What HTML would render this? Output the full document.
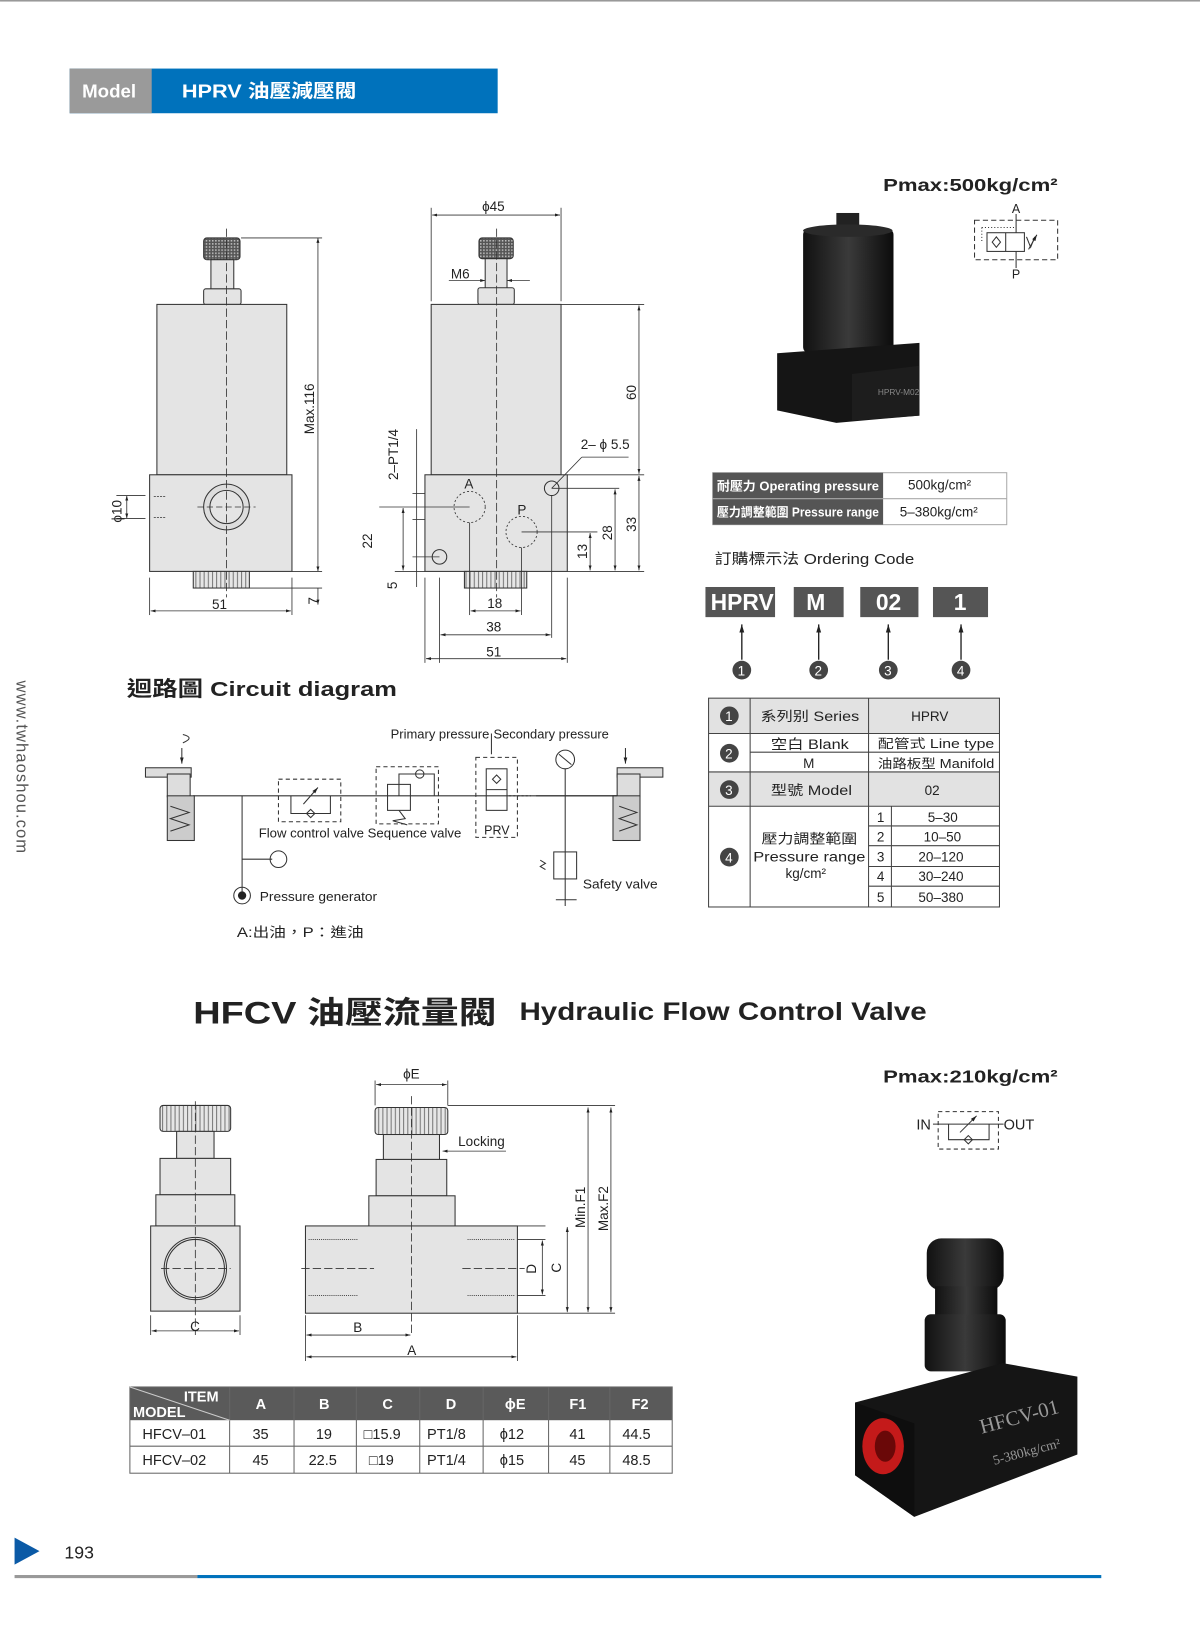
<!DOCTYPE html>
<html><head><meta charset="utf-8"><style>
html,body{margin:0;padding:0;background:#fff;width:1200px;height:1628px;overflow:hidden}
svg{display:block}
text{font-family:"Liberation Sans","Noto Sans CJK TC",sans-serif;fill:#222}
</style></head><body>
<svg width="1200" height="1628" viewBox="0 0 1155 1567" xmlns="http://www.w3.org/2000/svg">
<defs>
<marker id="ar" viewBox="0 0 10 10" refX="10" refY="5" markerWidth="6" markerHeight="6" orient="auto-start-reverse"><path d="M0,2 L10,5 L0,8z" fill="#222"/></marker>
<pattern id="kn" width="3" height="3" patternUnits="userSpaceOnUse"><rect width="3" height="3" fill="#555"/><rect width="1.5" height="1.5" fill="#bbb"/></pattern>
<pattern id="kv" width="4" height="4" patternUnits="userSpaceOnUse"><rect width="4" height="4" fill="#e6e6e6"/><rect width="1" height="4" fill="#777"/></pattern>
<linearGradient id="blk" x1="0" x2="1"><stop offset="0" stop-color="#111"/><stop offset="0.5" stop-color="#3a3a3a"/><stop offset="1" stop-color="#0c0c0c"/></linearGradient>
</defs>
<rect x="0" y="0" width="1155" height="1.5" fill="#999"/>
<!-- header -->
<rect x="67" y="66" width="412" height="43" fill="#0072bc"/>
<rect x="67" y="66" width="79" height="43" fill="#9a9a9a"/>
<text x="79" y="94" font-size="18" font-weight="bold" style="fill:#fff">Model</text>
<text x="175" y="94" font-size="18" font-weight="bold" style="fill:#fff" textLength="168" lengthAdjust="spacingAndGlyphs">HPRV  油壓減壓閥</text>
<!-- side text -->
<text transform="translate(16,655) rotate(90)" font-size="16" style="fill:#555" letter-spacing="1">www.twhaoshou.com</text>

<!-- drawing 1 -->
<g stroke="#333" stroke-width="1" fill="#e4e4e4">
<rect x="196" y="229" width="35" height="21" rx="3" fill="url(#kn)"/>
<rect x="203" y="250" width="22" height="30"/>
<rect x="196" y="278" width="36" height="15" rx="2"/>
<rect x="151" y="293" width="125" height="164"/>
<rect x="144" y="457" width="137" height="93"/>
<rect x="186" y="550" width="54" height="16" fill="url(#kv)"/>
<circle cx="218" cy="488" r="22" fill="#ddd"/>
<circle cx="218" cy="488" r="16" fill="#e4e4e4"/>
</g>
<g stroke="#333" stroke-width="0.8" fill="none">
<line x1="218" y1="220" x2="218" y2="575" stroke-dasharray="8,3"/>
<line x1="190" y1="488" x2="246" y2="488" stroke-dasharray="6,3"/>
<line x1="232" y1="229" x2="310" y2="229"/><line x1="240" y1="566" x2="310" y2="566"/>
<line x1="281" y1="550" x2="310" y2="550"/>
<line x1="306" y1="229" x2="306" y2="550" marker-start="url(#ar)" marker-end="url(#ar)"/>
<line x1="306" y1="566" x2="306" y2="582" marker-end="url(#ar)"/>
<line x1="144" y1="556" x2="144" y2="592"/><line x1="281" y1="556" x2="281" y2="592"/>
<line x1="145" y1="588" x2="280" y2="588" marker-start="url(#ar)" marker-end="url(#ar)"/>
<line x1="112" y1="477" x2="140" y2="477"/><line x1="112" y1="499" x2="140" y2="499"/>
<line x1="122" y1="477" x2="122" y2="499" marker-start="url(#ar)" marker-end="url(#ar)"/>
<line x1="148" y1="478" x2="160" y2="478" stroke-dasharray="2,1"/><line x1="148" y1="498" x2="160" y2="498" stroke-dasharray="2,1"/>
</g>
<text transform="translate(302,418) rotate(-90)" font-size="13">Max.116</text>
<text transform="translate(306,582) rotate(-90)" font-size="13">7</text>
<text x="204" y="586" font-size="13">51</text>
<text transform="translate(117,503) rotate(-90)" font-size="13">ϕ10</text>

<!-- drawing 2 -->
<g stroke="#333" stroke-width="1" fill="#e4e4e4">
<rect x="461" y="229" width="33" height="20" rx="3" fill="url(#kn)"/>
<rect x="467" y="249" width="21" height="30"/>
<rect x="460" y="277" width="35" height="16" rx="2"/>
<rect x="415" y="293" width="125" height="164"/>
<rect x="409" y="457" width="137" height="93"/>
<rect x="447" y="550" width="60" height="16" fill="url(#kv)"/>
<circle cx="423" cy="536" r="7"/><circle cx="531" cy="470" r="7"/>
</g>
<g stroke="#333" stroke-width="0.8" fill="none">
<circle cx="452" cy="488" r="15" stroke-dasharray="2,2"/><circle cx="502" cy="512" r="15" stroke-dasharray="2,2"/>
<line x1="478" y1="220" x2="478" y2="575" stroke-dasharray="8,3"/>
<line x1="415" y1="200" x2="415" y2="290"/><line x1="540" y1="200" x2="540" y2="290"/>
<line x1="416" y1="207" x2="539" y2="207" marker-start="url(#ar)" marker-end="url(#ar)"/>
<line x1="432" y1="270" x2="467" y2="270" marker-end="url(#ar)"/><line x1="510" y1="270" x2="488" y2="270" marker-end="url(#ar)"/>
<line x1="540" y1="293" x2="620" y2="293"/><line x1="546" y1="457" x2="620" y2="457"/><line x1="546" y1="550" x2="620" y2="550"/>
<line x1="615" y1="294" x2="615" y2="456" marker-start="url(#ar)" marker-end="url(#ar)"/>
<line x1="615" y1="458" x2="615" y2="549" marker-start="url(#ar)" marker-end="url(#ar)"/>
<line x1="531" y1="470" x2="596" y2="470"/><line x1="592" y1="471" x2="592" y2="549" marker-start="url(#ar)" marker-end="url(#ar)"/>
<line x1="502" y1="512" x2="575" y2="512"/><line x1="568" y1="513" x2="568" y2="549" marker-start="url(#ar)" marker-end="url(#ar)"/>
<line x1="531" y1="470" x2="560" y2="440"/><line x1="560" y1="440" x2="605" y2="440"/>
<line x1="365" y1="488" x2="452" y2="488"/><line x1="388" y1="489" x2="388" y2="549" marker-start="url(#ar)" marker-end="url(#ar)"/>
<line x1="380" y1="550" x2="409" y2="550"/>
<line x1="401" y1="413" x2="401" y2="565"/>
<line x1="397" y1="475" x2="409" y2="475"/><line x1="397" y1="500" x2="409" y2="500"/><line x1="397" y1="536" x2="423" y2="536"/>
<line x1="423" y1="556" x2="423" y2="638"/><line x1="531" y1="477" x2="531" y2="614"/><line x1="409" y1="556" x2="409" y2="638"/><line x1="546" y1="556" x2="546" y2="638"/>
<line x1="452" y1="503" x2="452" y2="592"/><line x1="502" y1="527" x2="502" y2="592"/>
<line x1="453" y1="588" x2="501" y2="588" marker-start="url(#ar)" marker-end="url(#ar)"/>
<line x1="424" y1="611" x2="530" y2="611" marker-start="url(#ar)" marker-end="url(#ar)"/>
<line x1="410" y1="634" x2="545" y2="634" marker-start="url(#ar)" marker-end="url(#ar)"/>
</g>
<text x="464" y="203" font-size="13">ϕ45</text>
<text x="434" y="268" font-size="13">M6</text>
<text x="559" y="432" font-size="13">2– ϕ 5.5</text>
<text x="447" y="470" font-size="13">A</text><text x="498" y="495" font-size="13">P</text>
<text transform="translate(612,385) rotate(-90)" font-size="13">60</text>
<text transform="translate(612,512) rotate(-90)" font-size="13">33</text>
<text transform="translate(589,520) rotate(-90)" font-size="13">28</text>
<text transform="translate(565,538) rotate(-90)" font-size="13">13</text>
<text transform="translate(358,528) rotate(-90)" font-size="13">22</text>
<text transform="translate(382,567) rotate(-90)" font-size="13">5</text>
<text transform="translate(383,462) rotate(-90)" font-size="13">2–PT1/4</text>
<text x="469" y="585" font-size="13">18</text><text x="468" y="608" font-size="13">38</text><text x="468" y="632" font-size="13">51</text>

<!-- photo 1 -->
<text x="850" y="184" font-size="17" font-weight="bold" textLength="168" lengthAdjust="spacingAndGlyphs">Pmax:500kg/cm²</text>
<rect x="805" y="205" width="22" height="20" fill="#222"/>
<rect x="773" y="220" width="87" height="120" rx="6" fill="url(#blk)"/>
<ellipse cx="816" cy="222" rx="43" ry="6" fill="#2a2a2a"/>
<path d="M748 340 L885 330 L885 400 L805 407 L748 395Z" fill="#151515"/>
<path d="M820 360 L885 352 L885 400 L820 405Z" fill="#1d1d1d"/>
<text x="845" y="380" font-size="8" style="fill:#888">HPRV-M02</text>
<!-- symbol -->
<g stroke="#333" stroke-width="1" fill="none">
<rect x="938" y="212" width="80" height="38" stroke-dasharray="5,3"/>
<rect x="950" y="224" width="36" height="18"/><line x1="968" y1="224" x2="968" y2="242"/>
<line x1="978" y1="206" x2="978" y2="224"/><line x1="978" y1="242" x2="978" y2="258"/>
<path d="M959 228 L963 233 L959 238 L955 233Z"/>
<line x1="945" y1="219" x2="978" y2="219" stroke-dasharray="1,2"/><line x1="945" y1="219" x2="945" y2="233" stroke-dasharray="1,2"/>
<path d="M988 228 L992 238 L996 228"/><line x1="990" y1="240" x2="998" y2="226" marker-end="url(#ar)"/>
</g>
<text x="974" y="205" font-size="12">A</text><text x="974" y="268" font-size="12">P</text>

<!-- spec table -->
<rect x="686" y="455" width="283" height="50" fill="#fff" stroke="#aaa"/>
<rect x="686" y="455" width="164" height="50" fill="#555"/>
<line x1="686" y1="480" x2="969" y2="480" stroke="#aaa"/>
<text x="690" y="472" font-size="12" font-weight="bold" style="fill:#fff" textLength="156" lengthAdjust="spacingAndGlyphs">耐壓力 Operating pressure</text>
<text x="690" y="497" font-size="12" font-weight="bold" style="fill:#fff" textLength="156" lengthAdjust="spacingAndGlyphs">壓力調整範圍 Pressure range</text>
<text x="874" y="471" font-size="13">500kg/cm²</text><text x="866" y="497" font-size="13">5–380kg/cm²</text>
<text x="688" y="543" font-size="14" textLength="192" lengthAdjust="spacingAndGlyphs">訂購標示法   Ordering Code</text>
<!-- ordering code -->
<g font-size="22" font-weight="bold">
<rect x="679" y="565" width="67" height="29" fill="#555"/><text x="684" y="587" style="fill:#fff">HPRV</text>
<rect x="764" y="565" width="48" height="29" fill="#555"/><text x="776" y="587" style="fill:#fff">M</text>
<rect x="828" y="565" width="56" height="29" fill="#555"/><text x="843" y="587" style="fill:#fff">02</text>
<rect x="898" y="565" width="53" height="29" fill="#555"/><text x="918" y="587" style="fill:#fff">1</text>
</g>
<g stroke="#222" stroke-width="1.3">
<line x1="714" y1="635" x2="714" y2="601" marker-end="url(#ar)"/><line x1="788" y1="635" x2="788" y2="601" marker-end="url(#ar)"/>
<line x1="855" y1="635" x2="855" y2="601" marker-end="url(#ar)"/><line x1="925" y1="635" x2="925" y2="601" marker-end="url(#ar)"/>
</g>
<g font-size="13"><circle cx="714" cy="645" r="9" fill="#444"/><text x="710" y="650" style="fill:#fff">1</text>
<circle cx="788" cy="645" r="9" fill="#444"/><text x="784" y="650" style="fill:#fff">2</text>
<circle cx="855" cy="645" r="9" fill="#444"/><text x="851" y="650" style="fill:#fff">3</text>
<circle cx="925" cy="645" r="9" fill="#444"/><text x="921" y="650" style="fill:#fff">4</text></g>

<!-- series table -->
<rect x="682" y="672" width="280" height="34" fill="#e2e2e2"/>
<rect x="682" y="743" width="280" height="33" fill="#e2e2e2"/>
<g stroke="#444" stroke-width="1" fill="none">
<rect x="682" y="672" width="280" height="201"/>
<line x1="682" y1="706" x2="962" y2="706"/><line x1="722" y1="724" x2="962" y2="724"/>
<line x1="682" y1="743" x2="962" y2="743"/><line x1="682" y1="776" x2="962" y2="776"/>
<line x1="722" y1="672" x2="722" y2="873"/><line x1="836" y1="672" x2="836" y2="873"/><line x1="858" y1="776" x2="858" y2="873"/>
<line x1="836" y1="795" x2="962" y2="795"/><line x1="836" y1="814" x2="962" y2="814"/><line x1="836" y1="834" x2="962" y2="834"/><line x1="836" y1="853" x2="962" y2="853"/>
</g>
<g font-size="13">
<circle cx="702" cy="689" r="9" fill="#444"/><text x="698" y="694" style="fill:#fff">1</text>
<circle cx="702" cy="725" r="9" fill="#444"/><text x="698" y="730" style="fill:#fff">2</text>
<circle cx="702" cy="760" r="9" fill="#444"/><text x="698" y="765" style="fill:#fff">3</text>
<circle cx="702" cy="825" r="9" fill="#444"/><text x="698" y="830" style="fill:#fff">4</text>
<text x="732" y="694" textLength="95" lengthAdjust="spacingAndGlyphs">系列别 Series</text><text x="877" y="694">HPRV</text>
<text x="742" y="721" textLength="75" lengthAdjust="spacingAndGlyphs">空白 Blank</text><text x="773" y="739">M</text>
<text x="845" y="720" font-size="12" textLength="112" lengthAdjust="spacingAndGlyphs">配管式 Line type</text><text x="845" y="739" font-size="12" textLength="112" lengthAdjust="spacingAndGlyphs">油路板型 Manifold</text>
<text x="742" y="765" textLength="78" lengthAdjust="spacingAndGlyphs">型號 Model</text><text x="890" y="765">02</text>
<text x="733" y="812" textLength="92" lengthAdjust="spacingAndGlyphs">壓力調整範圍</text><text x="725" y="829" textLength="108" lengthAdjust="spacingAndGlyphs">Pressure range</text><text x="756" y="845">kg/cm²</text>
<text x="844" y="791">1</text><text x="893" y="791">5–30</text>
<text x="844" y="810">2</text><text x="889" y="810">10–50</text>
<text x="844" y="829">3</text><text x="884" y="829">20–120</text>
<text x="844" y="848">4</text><text x="884" y="848">30–240</text>
<text x="844" y="868">5</text><text x="884" y="868">50–380</text>
</g>

<!-- circuit diagram -->
<text x="122" y="670" font-size="20" font-weight="bold" textLength="260" lengthAdjust="spacingAndGlyphs">迴路圖 Circuit diagram</text>
<g stroke="#333" stroke-width="1" fill="none">
<line x1="186" y1="766" x2="596" y2="766"/>
<line x1="233" y1="766" x2="233" y2="862"/><line x1="233" y1="827" x2="262" y2="827"/><circle cx="268" cy="827" r="8"/>
<circle cx="233" cy="862" r="8"/>
<rect x="140" y="739" width="44" height="9" fill="#ddd"/><rect x="161" y="745" width="22" height="22" fill="#ddd"/>
<rect x="161" y="766" width="26" height="43" fill="#ccc"/><path d="M164 776 L182 782 L164 788 L182 794 L164 800"/>
<line x1="175" y1="720" x2="175" y2="735" marker-end="url(#ar)"/><path d="M176 707 q12 3 0 8"/>
<rect x="594" y="739" width="44" height="9" fill="#ddd"/><rect x="594" y="745" width="22" height="22" fill="#ddd"/>
<rect x="590" y="766" width="26" height="43" fill="#ccc"/><path d="M596 776 L613 782 L596 788 L613 794 L596 800"/>
<line x1="602" y1="720" x2="602" y2="735" marker-end="url(#ar)"/>
<rect x="268" y="750" width="60" height="41" stroke-dasharray="4,3"/>
<path d="M280 766 L280 783 L318 783 L318 766"/><path d="M295 783 l4 -4 l4 4 l-4 4z"/><line x1="292" y1="774" x2="306" y2="758" marker-end="url(#ar)"/>
<rect x="362" y="738" width="60" height="55" stroke-dasharray="4,3"/>
<rect x="373" y="755" width="22" height="25"/><path d="M384 780 L390 788 L378 790 L392 794"/>
<path d="M384 766 L384 745 L418 745 L418 766"/><circle cx="404" cy="745" r="4"/>
<rect x="458" y="729" width="40" height="77" stroke-dasharray="4,3"/>
<rect x="468" y="740" width="20" height="40"/><line x1="468" y1="760" x2="488" y2="760"/><path d="M478 746 l4 4 l-4 4 l-4 -4z"/>
<line x1="490" y1="766" x2="511" y2="766" stroke-dasharray="2,2"/>
<line x1="516" y1="766" x2="594" y2="766"/>
<line x1="544" y1="740" x2="544" y2="872"/><circle cx="544" cy="731" r="9"/><line x1="538" y1="726" x2="550" y2="736"/>
<rect x="533" y="820" width="22" height="26"/><path d="M520 828 l5 3 l-5 3 l5 3"/><line x1="535" y1="866" x2="555" y2="866"/>
<line x1="473" y1="706" x2="473" y2="726"/>
</g>
<text x="249" y="806" font-size="12" textLength="195" lengthAdjust="spacingAndGlyphs">Flow control valve Sequence valve</text>
<text x="466" y="803" font-size="12">PRV</text>
<text x="376" y="711" font-size="12" textLength="95" lengthAdjust="spacingAndGlyphs">Primary pressure</text><text x="475" y="711" font-size="12" textLength="111" lengthAdjust="spacingAndGlyphs">Secondary pressure</text>
<text x="561" y="855" font-size="12" textLength="72" lengthAdjust="spacingAndGlyphs">Safety valve</text>
<circle cx="233" cy="862" r="4" fill="#222"/>
<text x="250" y="867" font-size="12" textLength="113" lengthAdjust="spacingAndGlyphs">Pressure generator</text>
<text x="228" y="902" font-size="13" textLength="122" lengthAdjust="spacingAndGlyphs">A:出油，P：進油</text>

<!-- HFCV title -->
<text x="186" y="985" font-size="30" font-weight="bold" textLength="292" lengthAdjust="spacingAndGlyphs">HFCV 油壓流量閥</text>
<text x="500" y="982" font-size="24" font-weight="bold" textLength="392" lengthAdjust="spacingAndGlyphs">Hydraulic Flow Control Valve</text>

<!-- HFCV drawings -->
<g stroke="#333" stroke-width="1" fill="#e4e4e4">
<rect x="154" y="1064" width="68" height="25" rx="3" fill="url(#kv)"/>
<rect x="170" y="1089" width="36" height="26"/>
<rect x="154" y="1115" width="68" height="35"/>
<rect x="150" y="1150" width="76" height="30"/>
<rect x="145" y="1180" width="86" height="82"/>
<circle cx="188" cy="1221" r="30" fill="none"/><circle cx="188" cy="1221" r="28" fill="none"/>
<rect x="361" y="1066" width="70" height="26" rx="3" fill="url(#kv)"/>
<rect x="369" y="1092" width="54" height="24"/>
<rect x="362" y="1116" width="68" height="35"/>
<rect x="355" y="1151" width="83" height="30"/>
<rect x="294" y="1180" width="204" height="84"/>
</g>
<g stroke="#333" stroke-width="0.8" fill="none">
<line x1="188" y1="1060" x2="188" y2="1285" stroke-dasharray="8,3"/><line x1="155" y1="1221" x2="222" y2="1221" stroke-dasharray="8,3"/>
<line x1="145" y1="1266" x2="145" y2="1285"/><line x1="231" y1="1266" x2="231" y2="1285"/>
<line x1="146" y1="1281" x2="230" y2="1281" marker-start="url(#ar)" marker-end="url(#ar)"/>
<line x1="396" y1="1055" x2="396" y2="1285" stroke-dasharray="8,3"/>
<line x1="290" y1="1221" x2="360" y2="1221" stroke-dasharray="8,3"/><line x1="445" y1="1221" x2="505" y2="1221" stroke-dasharray="8,3"/>
<line x1="297" y1="1193" x2="345" y2="1193" stroke-dasharray="1,1"/><line x1="297" y1="1247" x2="345" y2="1247" stroke-dasharray="1,1"/>
<line x1="450" y1="1193" x2="495" y2="1193" stroke-dasharray="1,1"/><line x1="450" y1="1247" x2="495" y2="1247" stroke-dasharray="1,1"/>
<line x1="361" y1="1040" x2="361" y2="1064"/><line x1="431" y1="1040" x2="431" y2="1064"/>
<line x1="362" y1="1044" x2="430" y2="1044" marker-start="url(#ar)" marker-end="url(#ar)"/>
<line x1="431" y1="1064" x2="592" y2="1064"/>
<line x1="498" y1="1264" x2="592" y2="1264"/><line x1="498" y1="1180" x2="525" y2="1180"/><line x1="498" y1="1193" x2="525" y2="1193"/><line x1="498" y1="1247" x2="525" y2="1247"/>
<line x1="522" y1="1194" x2="522" y2="1246" marker-start="url(#ar)" marker-end="url(#ar)"/>
<line x1="546" y1="1181" x2="546" y2="1263" marker-start="url(#ar)" marker-end="url(#ar)"/>
<line x1="566" y1="1066" x2="566" y2="1263" marker-start="url(#ar)" marker-end="url(#ar)"/>
<line x1="588" y1="1066" x2="588" y2="1263" marker-start="url(#ar)" marker-end="url(#ar)"/>
<line x1="294" y1="1266" x2="294" y2="1310"/><line x1="498" y1="1266" x2="498" y2="1310"/>
<line x1="295" y1="1285" x2="395" y2="1285" marker-start="url(#ar)" marker-end="url(#ar)"/>
<line x1="295" y1="1306" x2="497" y2="1306" marker-start="url(#ar)" marker-end="url(#ar)"/>
<line x1="487" y1="1108" x2="426" y2="1108" marker-end="url(#ar)"/>
</g>
<text x="388" y="1038" font-size="13">ϕE</text><text x="441" y="1103" font-size="13">Locking</text>
<text x="183" y="1281" font-size="13">C</text><text x="340" y="1282" font-size="13">B</text><text x="392" y="1304" font-size="13">A</text>
<text transform="translate(516,1226) rotate(-90)" font-size="13">D</text>
<text transform="translate(540,1225) rotate(-90)" font-size="13">C</text>
<text transform="translate(563,1182) rotate(-90)" font-size="13">Min.F1</text>
<text transform="translate(585,1185) rotate(-90)" font-size="13">Max.F2</text>

<!-- HFCV table -->
<rect x="125" y="1335" width="522" height="32" fill="#5a5a5a"/>
<g stroke="#666" stroke-width="1" fill="none">
<rect x="125" y="1335" width="522" height="83"/><line x1="125" y1="1392" x2="647" y2="1392"/>
<line x1="221" y1="1335" x2="221" y2="1418"/><line x1="283" y1="1335" x2="283" y2="1418"/><line x1="343" y1="1335" x2="343" y2="1418"/>
<line x1="404" y1="1335" x2="404" y2="1418"/><line x1="465" y1="1335" x2="465" y2="1418"/><line x1="528" y1="1335" x2="528" y2="1418"/><line x1="587" y1="1335" x2="587" y2="1418"/>
<line x1="125" y1="1335" x2="221" y2="1367" stroke="#ccc"/>
</g>
<g font-size="14" font-weight="bold" style="fill:#fff">
<text x="177" y="1349" style="fill:#fff">ITEM</text><text x="128" y="1364" style="fill:#fff">MODEL</text>
<text x="246" y="1356" style="fill:#fff">A</text><text x="307" y="1356" style="fill:#fff">B</text><text x="368" y="1356" style="fill:#fff">C</text>
<text x="429" y="1356" style="fill:#fff">D</text><text x="486" y="1356" style="fill:#fff">ϕE</text><text x="548" y="1356" style="fill:#fff">F1</text><text x="608" y="1356" style="fill:#fff">F2</text>
</g>
<g font-size="14">
<text x="137" y="1385">HFCV–01</text><text x="243" y="1385">35</text><text x="304" y="1385">19</text><text x="350" y="1385">□15.9</text>
<text x="411" y="1385">PT1/8</text><text x="481" y="1385">ϕ12</text><text x="548" y="1385">41</text><text x="599" y="1385">44.5</text>
<text x="137" y="1410">HFCV–02</text><text x="243" y="1410">45</text><text x="297" y="1410">22.5</text><text x="355" y="1410">□19</text>
<text x="411" y="1410">PT1/4</text><text x="481" y="1410">ϕ15</text><text x="548" y="1410">45</text><text x="599" y="1410">48.5</text>
</g>

<!-- HFCV photo -->
<text x="850" y="1042" font-size="17" font-weight="bold" textLength="168" lengthAdjust="spacingAndGlyphs">Pmax:210kg/cm²</text>
<g stroke="#333" stroke-width="1" fill="none">
<rect x="903" y="1070" width="58" height="36" stroke-dasharray="4,3"/>
<line x1="898" y1="1082" x2="966" y2="1082"/><path d="M913 1082 L913 1097 L952 1097 L952 1082"/>
<path d="M928 1097 l4 -4 l4 4 l-4 4z"/><line x1="924" y1="1090" x2="940" y2="1074" marker-end="url(#ar)"/>
</g>
<text x="882" y="1087" font-size="14">IN</text><text x="966" y="1087" font-size="14">OUT</text>
<rect x="892" y="1192" width="74" height="50" rx="14" fill="url(#blk)"/>
<rect x="900" y="1238" width="60" height="30" fill="url(#blk)"/>
<rect x="890" y="1265" width="78" height="55" rx="6" fill="url(#blk)"/>
<path d="M823 1350 L965 1312 L1037 1325 L1037 1400 L880 1460 L823 1420Z" fill="#151515"/>
<path d="M823 1350 L880 1370 L880 1460 L823 1420Z" fill="#0e0e0e"/>
<ellipse cx="850" cy="1392" rx="20" ry="27" fill="#c41a1a"/><ellipse cx="852" cy="1392" rx="10" ry="15" fill="#6a0808"/>
<text x="945" y="1380" font-size="20" transform="rotate(-15 945 1380)" style="fill:#999;font-family:'Liberation Serif',serif">HFCV-01</text>
<text x="957" y="1410" font-size="13" transform="rotate(-15 957 1410)" style="fill:#999;font-family:'Liberation Serif',serif">5-380kg/cm²</text>

<!-- footer -->
<path d="M14 1480 L38 1493 L14 1506Z" fill="#0b5aa6"/>
<text x="62" y="1500" font-size="17">193</text>
<rect x="14" y="1516" width="176" height="3" fill="#999"/>
<rect x="190" y="1516" width="870" height="3" fill="#0072bc"/>
</svg>
</body></html>
